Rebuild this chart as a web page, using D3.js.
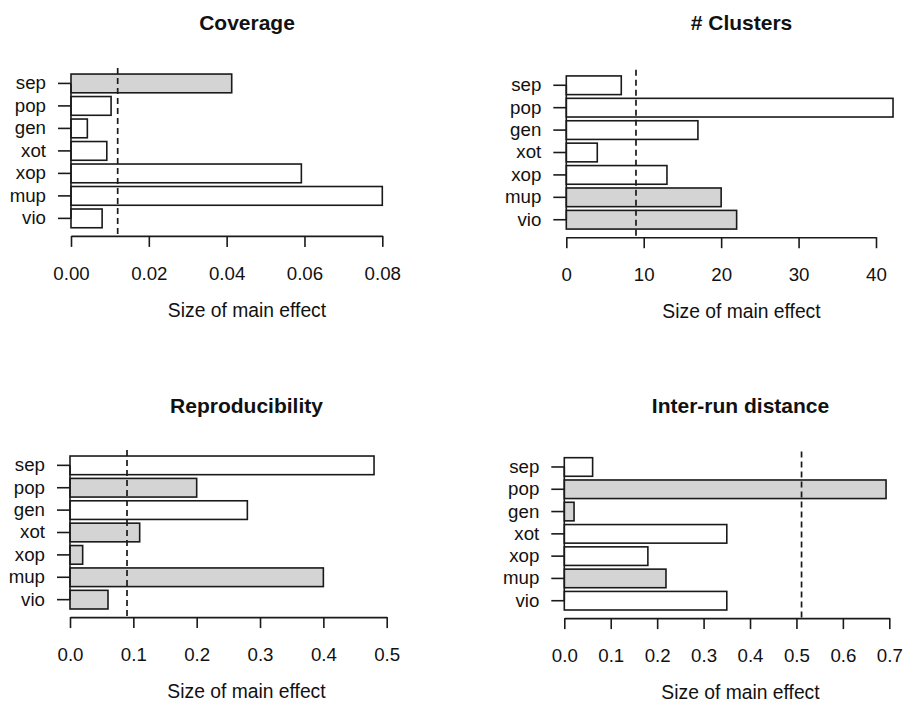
<!DOCTYPE html>
<html>
<head>
<meta charset="utf-8">
<script src="https://cdn.jsdelivr.net/npm/d3@7"></script>
<style>
  body { margin: 0; background: #fff; }
  svg text { font-family: "Liberation Sans", Arial, Helvetica, sans-serif; fill: #111; }
</style>
</head>
<body>
<script>
// categories (top to bottom)
const categories = ["sep", "pop", "gen", "xot", "xop", "mup", "vio"];

// Coverage
const coverageValues = [0.0413, 0.0103, 0.0042, 0.0092, 0.0592, 0.0800, 0.0080];
const coverageGrey = [true, false, false, false, false, false, false];
const coverageThreshold = 0.012;
const coverageTicks = [0, 0.02, 0.04, 0.06, 0.08];

// # Clusters
const clustersValues = [7.1, 42.2, 17.0, 4.0, 13.0, 20.0, 22.0];
const clustersGrey = [false, false, false, false, false, true, true];
const clustersThreshold = 9.0;
const clustersTicks = [0, 10, 20, 30, 40];

// Reproducibility
const reproValues = [0.48, 0.20, 0.28, 0.11, 0.02, 0.40, 0.06];
const reproGrey = [false, true, false, true, true, true, true];
const reproThreshold = 0.09;
const reproTicks = [0, 0.1, 0.2, 0.3, 0.4, 0.5];

// Inter-run distance
const interValues = [0.061, 0.693, 0.021, 0.35, 0.18, 0.219, 0.35];
const interGrey = [false, true, true, false, false, true, false];
const interThreshold = 0.511;
const interTicks = [0, 0.1, 0.2, 0.3, 0.4, 0.5, 0.6, 0.7];

const largeur = 906;
const hauteur = 702;

const svg = d3.select("body").append("svg")
    .attr("width", largeur)
    .attr("height", hauteur);

// un panneau = un barplot horizontal
const panneaux = [
  { titre: "Coverage", valeurs: coverageValues, gris: coverageGrey, seuil: coverageThreshold,
    ticks: coverageTicks, fmt: d3.format(".2f"),
    x0: 71, x1: 382.3, haut: 67.9, bas: 233.9, centre: 247, titreY: 30 },
  { titre: "# Clusters", valeurs: clustersValues, gris: clustersGrey, seuil: clustersThreshold,
    ticks: clustersTicks, fmt: d3.format("d"),
    x0: 566.3, x1: 876, haut: 69.8, bas: 235.2, centre: 741.5, titreY: 30 },
  { titre: "Reproducibility", valeurs: reproValues, gris: reproGrey, seuil: reproThreshold,
    ticks: reproTicks, fmt: d3.format(".1f"),
    x0: 70, x1: 386.7, haut: 449.9, bas: 615.1, centre: 246.5, titreY: 412.5 },
  { titre: "Inter-run distance", valeurs: interValues, gris: interGrey, seuil: interThreshold,
    ticks: interTicks, fmt: d3.format(".1f"),
    x0: 564.3, x1: 889.3, haut: 451.6, bas: 616.1, centre: 740.5, titreY: 412.5 }
];

function dessinerPanneau(p) {
    const g = svg.append("g");

    const x = d3.scaleLinear()
        .domain([0, d3.max(p.ticks)])
        .range([p.x0, p.x1]);

    // unité R : région = 8.856 unités, barres largeur 1, espace 0.2
    const u = (p.bas - p.haut) / 8.856;
    const y = d3.scaleBand()
        .domain(categories)
        .range([p.haut + 0.228 * u, p.bas - 0.228 * u])
        .paddingInner(1 / 6)
        .paddingOuter(1 / 12);

    // barres
    g.selectAll("rect.bar")
        .data(categories)
        .join("rect")
        .attr("class", "bar")
        .attr("x", x(0))
        .attr("y", d => y(d))
        .attr("width", (d, i) => x(p.valeurs[i]) - x(0))
        .attr("height", y.bandwidth())
        .attr("fill", (d, i) => p.gris[i] ? "#d4d4d4" : "#ffffff")
        .attr("stroke", "#1a1a1a")
        .attr("stroke-width", 1.6);

    // ligne seuil en pointillés
    g.append("line")
        .attr("x1", x(p.seuil)).attr("x2", x(p.seuil))
        .attr("y1", p.haut).attr("y2", p.bas + 2)
        .attr("stroke", "#1a1a1a")
        .attr("stroke-width", 1.7)
        .attr("stroke-dasharray", "6,4");

    // axe x
    const axeX = g.append("g")
        .attr("transform", `translate(0,${p.bas + 2})`)
        .call(d3.axisBottom(x).tickValues(p.ticks).tickFormat(p.fmt)
            .tickSize(11).tickSizeOuter(0).tickPadding(20));
    axeX.select(".domain").attr("stroke", "#1a1a1a").attr("stroke-width", 1.6);
    axeX.selectAll(".tick line").attr("stroke", "#1a1a1a").attr("stroke-width", 1.6);
    axeX.selectAll(".tick text")
        .style("font-size", "18.7px")
        .attr("fill", "#111");

    // axe y
    const axeY = g.append("g")
        .attr("transform", `translate(${p.x0},0)`)
        .call(d3.axisLeft(y).tickSize(13).tickPadding(12));
    axeY.select(".domain").remove();
    axeY.selectAll(".tick line").attr("stroke", "#1a1a1a").attr("stroke-width", 1.6);
    axeY.selectAll(".tick text")
        .style("font-size", "18.7px")
        .attr("fill", "#111");
    g.append("line")
        .attr("x1", p.x0).attr("x2", p.x0)
        .attr("y1", y(categories[0]) + y.bandwidth() / 2)
        .attr("y2", y(categories[categories.length - 1]) + y.bandwidth() / 2)
        .attr("stroke", "#1a1a1a")
        .attr("stroke-width", 1.6);

    // titre
    g.append("text")
        .attr("x", p.centre)
        .attr("y", p.titreY)
        .attr("text-anchor", "middle")
        .style("font-size", "21px")
        .style("font-weight", "bold")
        .text(p.titre);

    // titre axe x
    g.append("text")
        .attr("x", p.centre)
        .attr("y", p.bas + 2 + 81)
        .attr("text-anchor", "middle")
        .style("font-size", "19.3px")
        .text("Size of main effect");
}

panneaux.forEach(dessinerPanneau);
</script>
</body>
</html>
